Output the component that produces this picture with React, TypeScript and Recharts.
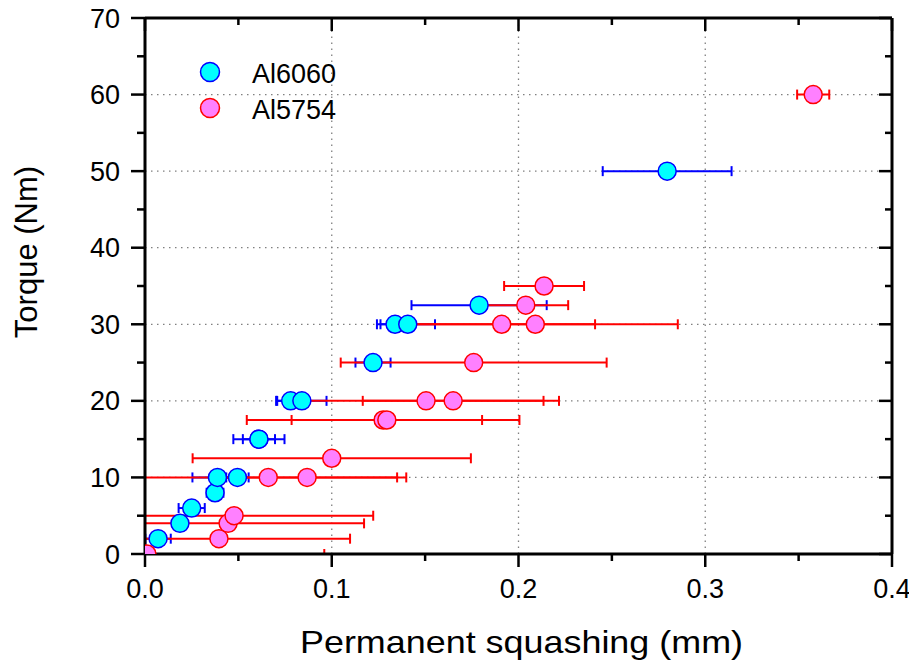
import { ScatterChart, Scatter, XAxis, YAxis, ErrorBar, ReferenceLine } from 'recharts';

// Al6060 measurements (x = permanent squashing, y = torque, ex = x error)
const al6060X = [0.007, 0.0187, 0.025, 0.0375, 0.0388, 0.0495, 0.061, 0.061, 0.078, 0.084, 0.1221, 0.1339, 0.1407, 0.1789, 0.2796];
const al6060Y = [2, 4, 6, 8, 10, 10, 15, 15, 20, 20, 25, 30, 30, 32.5, 50];
const al6060Err = [0.0068, 0.003, 0.007, 0.0045, 0.0134, 0.006, 0.0137, 0.0086, 0.0078, 0.0132, 0.0094, 0.0097, 0.0146, 0.0362, 0.0345];

// Al5754 measurements
const al5754X = [0.001, 0.0396, 0.0445, 0.0477, 0.066, 0.0868, 0.1, 0.1275, 0.1295, 0.1505, 0.165, 0.176, 0.191, 0.209, 0.2039, 0.2137, 0.3578];
const al5754Y = [0, 2, 4, 5, 10, 10, 12.5, 17.5, 17.5, 20, 20, 25, 30, 30, 32.5, 35, 60];
const al5754Err = [0.095, 0.0702, 0.0728, 0.0745, 0.0739, 0.0482, 0.0745, 0.073, 0.051, 0.0712, 0.0484, 0.0712, 0.05, 0.0763, 0.0227, 0.0214, 0.0086];

const xTicks = [0, 0.05, 0.1, 0.15, 0.2, 0.25, 0.3, 0.35, 0.4];
const yTicks = [0, 5, 10, 15, 20, 25, 30, 35, 40, 45, 50, 55, 60, 65, 70];
const xGrid = [0.1, 0.2, 0.3];
const yGrid = [10, 20, 30, 40, 50, 60];

const FONT = "'Liberation Sans', Arial, sans-serif";
const CLIP = 'url(#plotClip)';

const al6060 = al6060X.map((x, i) => ({ x, y: al6060Y[i], ex: al6060Err[i] }));
const al5754 = al5754X.map((x, i) => ({ x, y: al5754Y[i], ex: al5754Err[i] }));

const isMajorX = (v: number) => Math.abs(v * 10 - Math.round(v * 10)) < 1e-6;
const isMajorY = (v: number) => v % 10 === 0;

const BottomTick = ({ x, y, payload }: any) => {
  const major = isMajorX(payload.value);
  return (
    <g>
      <line x1={x} x2={x} y1={y} y2={y + (major ? 13 : 7)} stroke="#000" strokeWidth={2.5} />
      {major && (
        <text x={x} y={y + 44} textAnchor="middle" fontSize={27} fontFamily={FONT} fill="#000">
          {payload.value.toFixed(1)}
        </text>
      )}
    </g>
  );
};

const LeftTick = ({ x, y, payload }: any) => {
  const major = isMajorY(payload.value);
  return (
    <g>
      <line x1={x} x2={x - (major ? 14 : 8)} y1={y} y2={y} stroke="#000" strokeWidth={2.5} />
      {major && (
        <text x={x - 25} y={y + 9.5} textAnchor="end" fontSize={27} fontFamily={FONT} fill="#000">
          {payload.value}
        </text>
      )}
    </g>
  );
};

const TopTick = ({ x, y, payload }: any) => (
  <line x1={x} x2={x} y1={y} y2={y + (isMajorX(payload.value) ? 13 : 7)} stroke="#000" strokeWidth={2.5} />
);

const RightTick = ({ x, y, payload }: any) => (
  <line x1={x} x2={x - (isMajorY(payload.value) ? 13 : 7)} y1={y} y2={y} stroke="#000" strokeWidth={2.5} />
);

const dot = (fill: string, stroke: string) => (p: any) =>
  <circle cx={p.cx} cy={p.cy} r={9} fill={fill} stroke={stroke} strokeWidth={1.5} clipPath={CLIP} />;

const hidden = () => <g />;

export default function App() {
  return (
    <div style={{ position: 'relative', width: 917, height: 671, margin: -8, background: '#fff' }}>
      <svg width={0} height={0} style={{ position: 'absolute' }}>
        <defs>
          <clipPath id="plotClip" clipPathUnits="userSpaceOnUse">
            <rect x={145} y={18} width={747} height={536} />
          </clipPath>
        </defs>
      </svg>
      <ScatterChart width={917} height={671} margin={{ top: 17, right: 24, bottom: 0, left: 0 }}>
        <XAxis
          type="number"
          dataKey="x"
          domain={[0, 0.4]}
          allowDataOverflow
          ticks={xTicks}
          interval={0}
          height={117}
          tickSize={0}
          tickMargin={0}
          tickLine={false}
          tick={(p: any) => <BottomTick {...p} />}
          axisLine={{ stroke: '#000', strokeWidth: 3 }}
          label={{
            content: ({ viewBox }: any) => (
              <text
                x={viewBox.x + viewBox.width / 2 + 3}
                y={viewBox.y + 99}
                textAnchor="middle"
                fontSize={32}
                fontFamily={FONT}
                textLength={443}
                lengthAdjust="spacingAndGlyphs"
                fill="#000"
              >
                Permanent squashing (mm)
              </text>
            ),
          }}
        />
        <XAxis
          xAxisId="top"
          orientation="top"
          type="number"
          dataKey="x"
          domain={[0, 0.4]}
          allowDataOverflow
          ticks={xTicks}
          interval={0}
          height={1}
          tickSize={0}
          tickMargin={0}
          tickLine={false}
          tick={(p: any) => <TopTick {...p} />}
          axisLine={{ stroke: '#000', strokeWidth: 3 }}
        />
        <YAxis
          type="number"
          dataKey="y"
          domain={[0, 70]}
          allowDataOverflow
          ticks={yTicks}
          interval={0}
          width={145}
          tickSize={0}
          tickMargin={0}
          tickLine={false}
          tick={(p: any) => <LeftTick {...p} />}
          axisLine={{ stroke: '#000', strokeWidth: 3 }}
          label={{
            content: () => (
              <text
                x={37}
                y={252}
                transform="rotate(-90, 37, 252)"
                textAnchor="middle"
                fontSize={31}
                fontFamily={FONT}
                fill="#000"
              >
                Torque (Nm)
              </text>
            ),
          }}
        />
        <YAxis
          yAxisId="right"
          orientation="right"
          type="number"
          dataKey="y"
          domain={[0, 70]}
          allowDataOverflow
          ticks={yTicks}
          interval={0}
          width={1}
          tickSize={0}
          tickMargin={0}
          tickLine={false}
          tick={(p: any) => <RightTick {...p} />}
          axisLine={{ stroke: '#000', strokeWidth: 3 }}
        />
        {xGrid.map((v) => (
          <ReferenceLine key={'gx' + v} x={v} stroke="#808080" strokeWidth={1.3} strokeDasharray="1.5 4.5" />
        ))}
        {yGrid.map((v) => (
          <ReferenceLine key={'gy' + v} y={v} stroke="#808080" strokeWidth={1.3} strokeDasharray="1.5 4.5" />
        ))}
        {/* invisible series so the top/right frame axes get a domain */}
        <Scatter data={al6060} xAxisId="top" yAxisId="right" isAnimationActive={false} shape={hidden} legendType="none" />
        <Scatter data={al6060} isAnimationActive={false} shape={dot('#00FFFF', '#0000FF')}>
          <ErrorBar dataKey="ex" direction="x" width={5} stroke="#0000FF" strokeWidth={2} clipPath={CLIP} isAnimationActive={false} />
        </Scatter>
        <Scatter data={al5754} isAnimationActive={false} shape={dot('#FF80FF', '#FF0000')}>
          <ErrorBar dataKey="ex" direction="x" width={5} stroke="#FF0000" strokeWidth={2} clipPath={CLIP} isAnimationActive={false} />
        </Scatter>
      </ScatterChart>
      <svg width={917} height={671} style={{ position: 'absolute', left: 0, top: 0, pointerEvents: 'none' }}>
        <circle cx={210} cy={72} r={9.5} fill="#00FFFF" stroke="#0000FF" strokeWidth={1.5} />
        <text x={252} y={83} fontSize={27} fontFamily={FONT} fill="#000">Al6060</text>
        <circle cx={210} cy={108} r={9.5} fill="#FF80FF" stroke="#FF0000" strokeWidth={1.5} />
        <text x={252} y={118.5} fontSize={27} fontFamily={FONT} fill="#000">Al5754</text>
      </svg>
    </div>
  );
}
